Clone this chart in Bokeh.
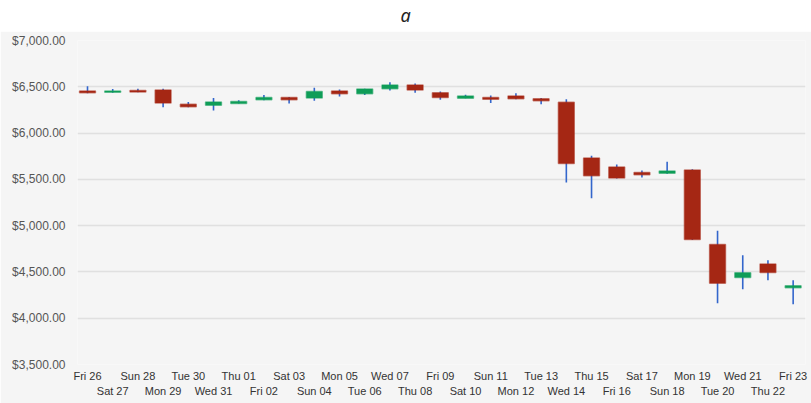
from bokeh.plotting import figure
from bokeh.layouts import column
from bokeh.models import Range1d, FixedTicker, LinearAxis, NumeralTickFormatter, ColumnDataSource
from bokeh.core.properties import value
from bokeh.embed import file_html
from bokeh.resources import INLINE

labels = ["Fri 26", "Sat 27", "Sun 28", "Mon 29", "Tue 30", "Wed 31", "Thu 01", "Fri 02",
          "Sat 03", "Sun 04", "Mon 05", "Tue 06", "Wed 07", "Thu 08", "Fri 09", "Sat 10",
          "Sun 11", "Mon 12", "Tue 13", "Wed 14", "Thu 15", "Fri 16", "Sat 17", "Sun 18",
          "Mon 19", "Tue 20", "Wed 21", "Thu 22", "Fri 23"]
opens = [6455, 6440, 6460, 6465, 6310, 6300, 6320, 6360, 6385, 6380, 6455, 6425, 6480, 6520,
         6435, 6375, 6385, 6400, 6370, 6333, 5730, 5633, 5575, 5565, 5600, 4796, 4440, 4585, 4330]
closes = [6435, 6455, 6445, 6325, 6285, 6335, 6340, 6385, 6360, 6450, 6425, 6475, 6520, 6465,
          6385, 6400, 6365, 6370, 6350, 5672, 5540, 5515, 5550, 5590, 4850, 4378, 4490, 4495, 4350]
highs = [6505, 6475, 6480, 6480, 6335, 6380, 6355, 6410, 6390, 6490, 6470, 6480, 6550, 6535,
         6450, 6415, 6405, 6430, 6380, 6365, 5755, 5660, 5595, 5690, 5610, 4944, 4681, 4627, 4411]
lows = [6430, 6435, 6440, 6280, 6280, 6245, 6320, 6355, 6320, 6350, 6395, 6410, 6460, 6435,
        6360, 6375, 6325, 6365, 6310, 5467, 5295, 5510, 5520, 5560, 4845, 4162, 4313, 4411, 4151]
y_ticks = [3500, 4000, 4500, 5000, 5500, 6000, 6500, 7000]
title_text = "a"

GRAY = "#f5f5f5"
RED = "#a52714"
GREEN = "#0f9d58"
BLUE = "#3366cc"

xs = list(range(len(labels)))
src = ColumnDataSource(dict(
    x=xs,
    high=highs,
    low=lows,
    top=[max(o, c) for o, c in zip(opens, closes)],
    bottom=[min(o, c) for o, c in zip(opens, closes)],
    color=[GREEN if c >= o else RED for o, c in zip(opens, closes)],
))

# title strip (white); its frame is aligned with the chart frame (x 77..805)
t = figure(width=811, height=31, title=None,
           x_range=Range1d(77, 805), y_range=Range1d(0, 31),
           toolbar_location=None, output_backend="svg",
           min_border_left=77, min_border_right=6, min_border_top=0, min_border_bottom=0,
           x_axis_location=None, y_axis_location=None, outline_line_color=None,
           background_fill_color="white", border_fill_color="white")
t.grid.visible = False
t.text(x=[405], y=[17], text=[title_text], text_font=value("Noto Sans"),
       text_font_style="italic", text_font_size="18px", text_align="center",
       text_baseline="middle", text_color="#222222")

p = figure(width=811, height=372, title=None,
           x_range=Range1d(-0.397, 28.49), y_range=Range1d(3500, 7000),
           toolbar_location=None, output_backend="svg",
           min_border_left=77, min_border_right=6, min_border_top=9, min_border_bottom=39,
           background_fill_color=GRAY, border_fill_color=GRAY, outline_line_color=None,
           x_axis_location=None)

for g in p.grid:
    if g.dimension == 0:
        g.visible = False
    else:
        g.ticker = FixedTicker(ticks=y_ticks)
        g.grid_line_color = "#e0e0e0"
        g.grid_line_width = 1.5

ya = p.yaxis[0]
ya.ticker = FixedTicker(ticks=y_ticks)
ya.formatter = NumeralTickFormatter(format="$0,0.00")
ya.axis_line_color = None
ya.major_tick_line_color = None
ya.minor_tick_line_color = None
ya.major_tick_out = 0
ya.major_label_standoff = 12
ya.major_label_text_font = "Liberation Sans"
ya.major_label_text_font_size = "12px"
ya.major_label_text_color = "#555555"

for k, standoff in ((0, 5), (1, 0)):
    ticks = xs[k::2]
    ax = LinearAxis(ticker=FixedTicker(ticks=ticks),
                    major_label_overrides={i: labels[i] for i in ticks})
    ax.axis_line_color = None
    ax.major_tick_line_color = None
    ax.minor_tick_line_color = None
    ax.major_tick_out = 0
    ax.major_tick_in = 0
    ax.major_label_standoff = standoff
    ax.major_label_text_font = "Liberation Sans"
    ax.major_label_text_font_size = "11px"
    ax.major_label_text_color = "#333333"
    p.add_layout(ax, "below")

p.segment(x0="x", y0="high", x1="x", y1="low", source=src, line_color=BLUE, line_width=1.6)
p.vbar(x="x", width=0.63, top="top", bottom="bottom", source=src,
       fill_color="color", line_color="color", line_alpha=0.55, line_width=1.5)

layout = column(t, p, spacing=0)
open("out.html", "w").write(file_html(layout, INLINE))
